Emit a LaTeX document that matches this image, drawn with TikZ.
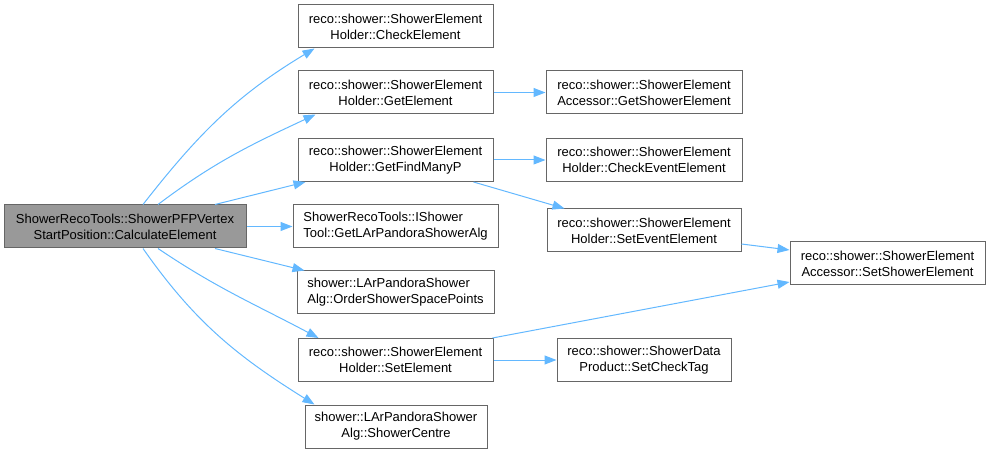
\documentclass[tikz,border=0pt]{standalone}
\usepackage{fontspec}
\setmainfont{Liberation Sans}
\usepackage{tikz}
\usetikzlibrary{arrows.meta}

\definecolor{edgeblue}{HTML}{63B8FF}
\definecolor{boxline}{HTML}{666666}
\definecolor{rootfill}{HTML}{999999}

\begin{document}
\begin{tikzpicture}[
  x=1pt, y=1pt,
  >={Triangle[length=12pt,width=9pt]},
  box/.style={draw=boxline, line width=1pt, fill=white, align=center,
              inner sep=0pt, minimum height=43pt,
              font=\fontsize{13}{16}\selectfont},
  leftbox/.style={box, align=left},
  rootbox/.style={box, fill=rootfill},
  call/.style={draw=edgeblue, line width=1pt, ->}
]
\useasboundingbox (0,0) rectangle (991,453);

\node[rootbox, minimum width=242pt] (calc) at (125,226.5)
  {ShowerRecoTools::ShowerPFPVertex\\StartPosition::CalculateElement};

\node[box, minimum width=195pt] (check) at (395.5,426.5)
  {reco::shower::ShowerElement\\Holder::CheckElement};
\node[box, minimum width=195pt] (get) at (395.5,360.5)
  {reco::shower::ShowerElement\\Holder::GetElement};
\node[box, minimum width=195pt] (many) at (395.5,293)
  {reco::shower::ShowerElement\\Holder::GetFindManyP};
\node[leftbox, minimum width=205pt] (ishower) at (395.5,226.5)
  {ShowerRecoTools::IShower\\Tool::GetLArPandoraShowerAlg};
\node[leftbox, minimum width=197pt] (order) at (395.5,160.5)
  {shower::LArPandoraShower\\Alg::OrderShowerSpacePoints};
\node[box, minimum width=195pt] (setel) at (395.5,93)
  {reco::shower::ShowerElement\\Holder::SetElement};
\node[box, minimum width=182pt] (centre) at (396,26.5)
  {shower::LArPandoraShower\\Alg::ShowerCentre};

\node[box, minimum width=196pt] (getsh) at (644,360.5)
  {reco::shower::ShowerElement\\Accessor::GetShowerElement};
\node[box, minimum width=196pt] (checkev) at (644,293)
  {reco::shower::ShowerElement\\Holder::CheckEventElement};
\node[box, minimum width=194pt] (setev) at (644,222.5)
  {reco::shower::ShowerElement\\Holder::SetEventElement};
\node[box, minimum width=174pt] (tag) at (644,93)
  {reco::shower::ShowerData\\Product::SetCheckTag};

\node[box, minimum width=195pt] (setsh) at (887.5,189.5)
  {reco::shower::ShowerElement\\Accessor::SetShowerElement};

% calls from the root
\path[call] ([xshift=18pt]calc.north) to[out=52,in=211] ([xshift=17pt]check.south west);
\path[call] ([xshift=33pt]calc.north) to[out=37,in=205] ([xshift=18pt]get.south west);
\path[call] ([xshift=90pt]calc.north) -- ([xshift=8pt]many.south west);
\path[call] (calc.east) -- (ishower.west);
\path[call] ([xshift=90pt]calc.south) -- ([xshift=8pt]order.north west);
\path[call] ([xshift=33pt]calc.south) to[out=-34,in=152] ([xshift=21pt]setel.north west);
\path[call] ([xshift=18pt]calc.south) to[out=-55,in=148] ([xshift=10pt]centre.north west);

% second level
\path[call] (get.east) -- (getsh.west);
\path[call] (many.east) -- (checkev.west);
\path[call] ([xshift=-20pt]many.south east) -- ([xshift=18pt]setev.north west);
\path[call] (setel.east) -- (tag.west);
\path[call] ([xshift=-1pt]setel.north east) -- ([yshift=-18.5pt]setsh.west);
\path[call] ([yshift=-13.5pt]setev.east) -- ([yshift=13.5pt]setsh.west);
\end{tikzpicture}
\end{document}
